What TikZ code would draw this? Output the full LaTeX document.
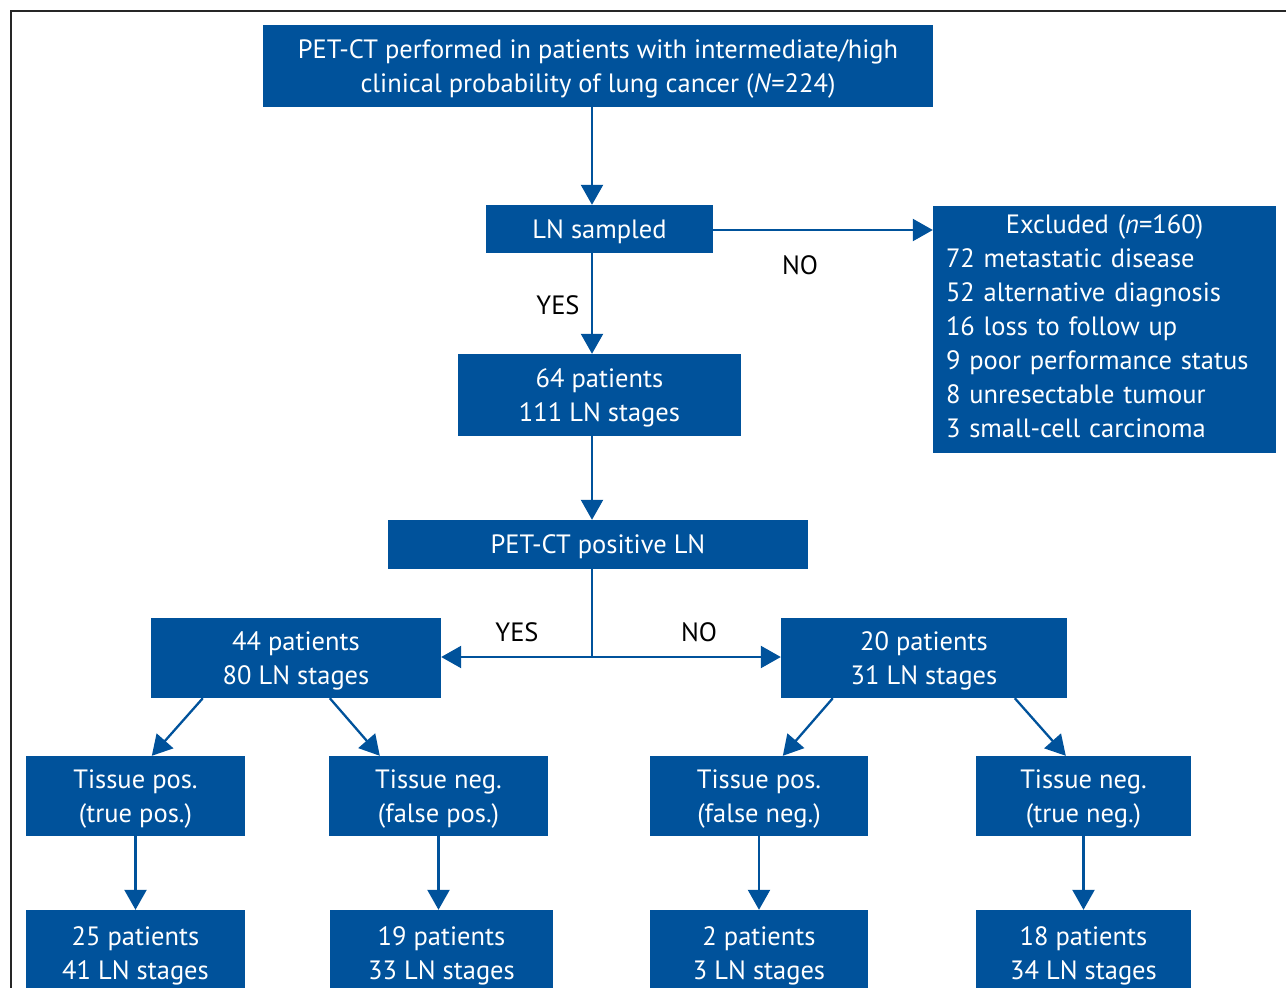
\documentclass[tikz,border=0pt]{standalone}
\usepackage{fontspec}
\setmainfont{PT Sans}
\usetikzlibrary{arrows.meta,calc}
\definecolor{boxblue}{RGB}{0,82,155}
\begin{document}
\begin{tikzpicture}[x=1pt,y=-1pt,
 box/.style={fill=boxblue, text=white, inner sep=0pt, align=center, text depth=0pt, font=\fontsize{26.5}{34}\selectfont},
 arr/.style={draw=boxblue, line width=2.3pt, -{Triangle[length=20pt,width=22pt]}},
 ln/.style={draw=boxblue, line width=2.3pt},
 lbl/.style={font=\fontsize{26.5}{34}\selectfont, text=black, inner sep=0pt}]
\useasboundingbox (0,0) rectangle (1286,988);
\clip (0,0) rectangle (1286,988);
\draw[line width=1.5pt, draw=black!85] (11,988) -- (11,11) -- (1286,11);

\node[box, minimum width=670, minimum height=82] (top) at (598,66) {PET-CT performed in patients with intermediate/high\\clinical probability of lung cancer (\textit{N}=224)};
\node[box, minimum width=227, minimum height=48] (lns) at (599.5,229) {LN sampled};
\node[box, align=left, text width=317pt, inner xsep=13pt, text depth=210pt, minimum height=247] (excl) at (1104.5,329.5) {\hfill Excluded (\textit{n}=160)\hfill\null\\72 metastatic disease\\52 alternative diagnosis\\16 loss to follow up\\9 poor performance status\\8 unresectable tumour\\3 small-cell carcinoma};
\node[box, minimum width=283, minimum height=82] (p64) at (599.5,395) {64 patients\\111 LN stages};
\node[box, minimum width=420, minimum height=49] (pet) at (598,544.5) {PET-CT positive LN};
\node[box, minimum width=290, minimum height=80] (p44) at (296,658) {44 patients\\80 LN stages};
\node[box, minimum width=286, minimum height=80] (p20) at (924,658) {20 patients\\31 LN stages};
\node[box, minimum width=219, minimum height=80] (t1) at (135.5,796) {Tissue pos.\\(true pos.)};
\node[box, minimum width=219, minimum height=80] (t2) at (438.5,796) {Tissue neg.\\(false pos.)};
\node[box, minimum width=218, minimum height=80] (t3) at (759,796) {Tissue pos.\\(false neg.)};
\node[box, minimum width=215, minimum height=80] (t4) at (1083.5,796) {Tissue neg.\\(true neg.)};
\node[box, minimum width=219, minimum height=86] (b1) at (135.5,953) {25 patients\\41 LN stages};
\node[box, minimum width=223, minimum height=86] (b2) at (441.5,953) {19 patients\\33 LN stages};
\node[box, minimum width=218, minimum height=86] (b3) at (759,953) {2 patients\\3 LN stages};
\node[box, minimum width=215, minimum height=86] (b4) at (1083.5,953) {18 patients\\34 LN stages};

\coordinate (c) at (592,0);
\coordinate (s) at (592,657);
\draw[arr] (top.south -| c) -- (lns.north -| c);
\draw[arr] (lns.south -| c) -- (p64.north -| c);
\draw[arr] (p64.south -| c) -- (pet.north -| c);
\draw[arr] ($(lns.east)+(0,1)$) -- ($(lns.east -| excl.west)+(0,1)$);
\draw[ln] (pet.south -| s) -- (s);
\draw[arr] (s) -- (s -| p44.east);
\draw[arr] (s) -- (s -| p20.west);
\draw[arr] ($(p44.south west)+(52,0)$) -- ($(t1.north west)+(126,0)$);
\draw[arr] ($(p44.south west)+(179,0)$) -- ($(t2.north west)+(51,0)$);
\draw[arr] ($(p20.south west)+(52,0)$) -- ($(t3.north west)+(133,0)$);
\draw[arr] ($(p20.south west)+(234,0)$) -- ($(t4.north west)+(90,0)$);
\draw[arr] (t1.south) -- (b1.north -| t1.south);
\draw[arr] (t2.south) -- (b2.north -| t2.south);
\draw[arr] (t3.south) -- (b3.north -| t3.south);
\draw[arr] (t4.south) -- (b4.north -| t4.south);

\node[lbl] (yes1) at (558,305) {YES};
\node[lbl] (no1) at (800,265) {NO};
\node[lbl] (yes2) at (517,632) {YES};
\node[lbl] (no2) at (699,632) {NO};
\end{tikzpicture}
\end{document}
